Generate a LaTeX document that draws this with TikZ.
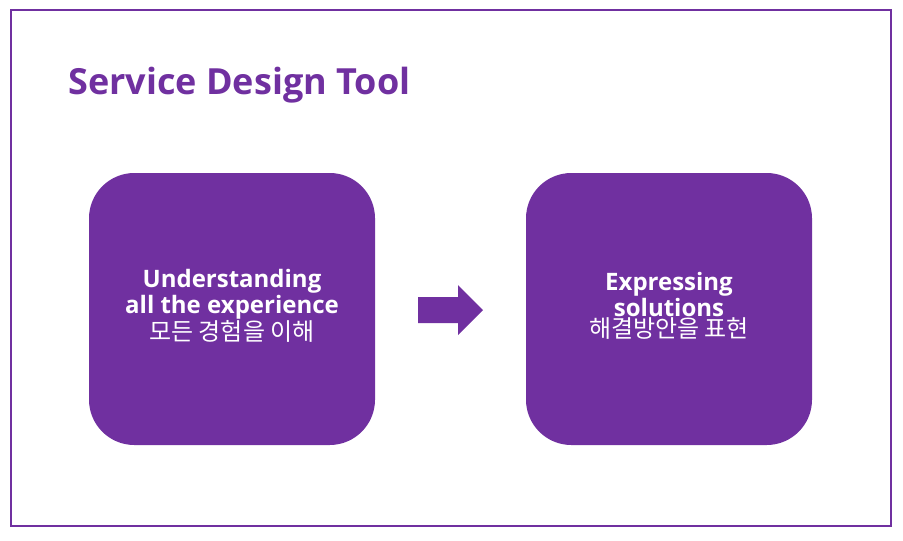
\documentclass[tikz,border=0pt]{standalone}
\usepackage{fontspec}
\setmainfont{Open Sans}
\newfontfamily\krfont{Noto Sans CJK KR}
\definecolor{svcpurple}{HTML}{7030A0}
\newcommand\stagehead{\bfseries\fontsize{18}{22}\selectfont}
\newcommand\stagesub{\krfont\fontsize{18}{24}\selectfont}
\tikzset{
  stagebox/.style={fill=svcpurple, rounded corners=34pt, minimum width=214.5pt, minimum height=204pt, inner sep=0pt},
  stagetext/.style={align=center, text=white}
}
\begin{document}
\begin{tikzpicture}[x=0.75pt,y=-0.75pt]
  \useasboundingbox (0,0) rectangle (903,540);
  \draw [svcpurple, line width=1.5pt] (11,10) rectangle (891,526);
  \node (title) [anchor=west, text=svcpurple, font=\bfseries\fontsize{27}{30}\selectfont, inner sep=0pt] at (68,85) {Service Design Tool};
  % stages
  \node (understand) [stagebox] at (232,309) {};
  \node (understandtxt) [stagetext] at (232,306)
    {{\stagehead Understanding}\\{\stagehead all the experience}\\{\stagesub 모든 경험을 이해}};
  \node (express) [stagebox] at (669,309) {};
  \node (expresstxt) [stagetext] at (669,306)
    {{\stagehead Expressing}\\{\stagehead solutions}\\{\stagesub 해결방안을 표현}};
  % arrow between the stages
  \coordinate (nextstep) at (418,310);
  \fill [svcpurple] (nextstep) ++(0,-13) -- ++(40,0) -- ++(0,-12) -- ++(25,25)
    -- ++(-25,25) -- ++(0,-12) -- ++(-40,0) -- cycle;
\end{tikzpicture}
\end{document}
